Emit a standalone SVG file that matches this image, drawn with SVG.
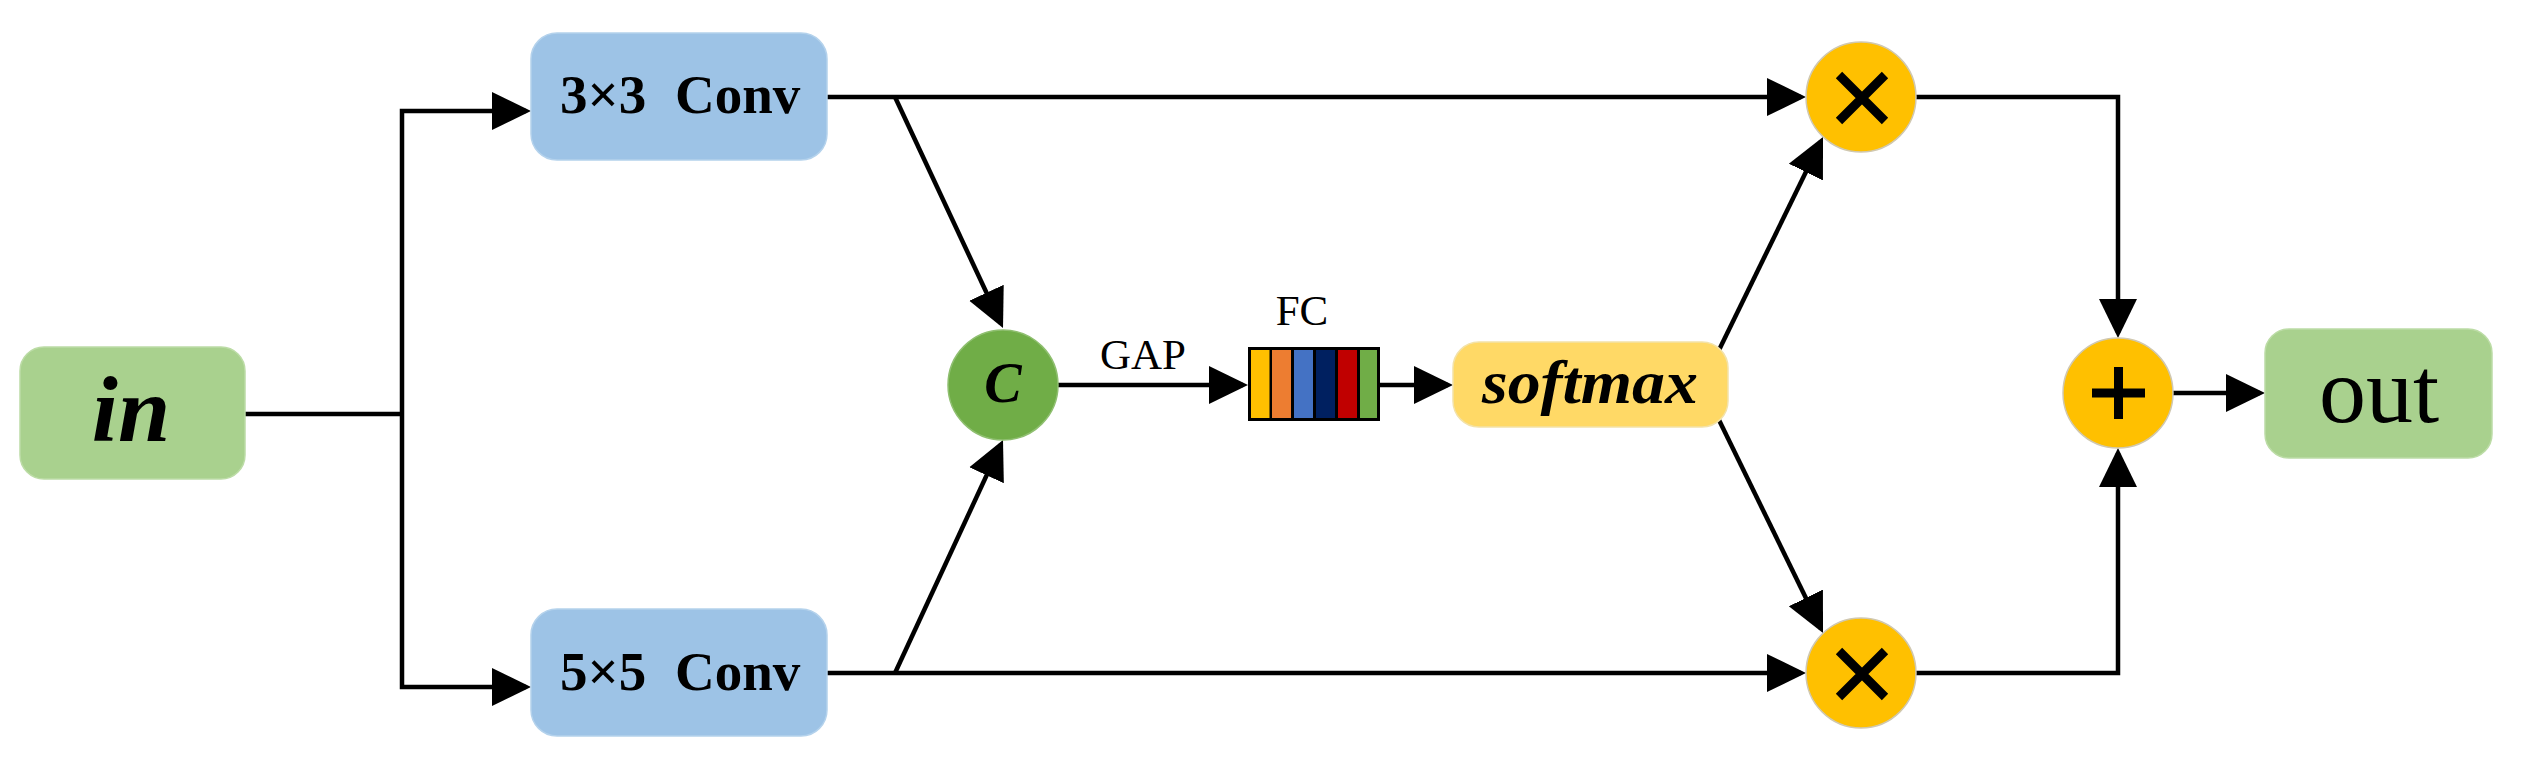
<svg xmlns="http://www.w3.org/2000/svg" width="2527" height="763" viewBox="0 0 2527 763">
<style>
.t{font-family:"Liberation Serif","Times New Roman",serif;fill:#000}
.b{font-weight:bold}
.bi{font-weight:bold;font-style:italic}
.conv{fill:#9DC3E6;stroke:#b4d2ec;stroke-width:1.5}
.grn{fill:#A9D18E;stroke:#bcdca6;stroke-width:1.5}
.op{fill:#FFC000;stroke:#d0c8b0;stroke-width:1.5}
.ln{fill:none;stroke:#000;stroke-width:4.5;stroke-linejoin:miter}
.ar{marker-end:url(#ah)}
.sg{stroke:#000;stroke-width:9;fill:none}
</style>
<defs>
<marker id="ah" markerUnits="userSpaceOnUse" markerWidth="40" markerHeight="40" viewBox="0 0 40 40" refX="34" refY="20" orient="auto">
<path d="M0,1 L39,20 L0,39 z" fill="#000"/>
</marker>
</defs>
<rect width="2527" height="763" fill="#fff"/>

<g id="connectors">
<path class="ln" d="M245,414 H402"/>
<path class="ln ar" d="M402,414 V111 H526"/>
<path class="ln ar" d="M402,414 V687 H526"/>
<path class="ln ar" d="M827,97 H1801"/>
<path class="ln ar" d="M895,97 L1000.9,323.5"/>
<path class="ln ar" d="M827,673 H1801"/>
<path class="ln ar" d="M895,673 L1000.9,444.5"/>
<path class="ln ar" d="M1058,385 H1243"/>
<path class="ln ar" d="M1380,385 H1448"/>
<path class="ln ar" d="M1719,350 L1820.8,141.5"/>
<path class="ln ar" d="M1719,420 L1820.8,628.5"/>
<path class="ln ar" d="M1916,97 H2118 V333"/>
<path class="ln ar" d="M1916,673 H2118 V453"/>
<path class="ln ar" d="M2173,393 H2260"/>
</g>

<g id="in">
<rect class="grn" x="20" y="347" width="225" height="132" rx="24"/>
<text class="t bi" x="131" y="441" font-size="94" text-anchor="middle">in</text>
</g>

<g id="conv3">
<rect class="conv" x="531" y="33" width="296" height="127" rx="26"/>
<text class="t b" y="113" font-size="55"><tspan x="560">3×3</tspan><tspan x="675">Conv</tspan></text>
</g>

<g id="conv5">
<rect class="conv" x="531" y="609" width="296" height="127" rx="26"/>
<text class="t b" y="690" font-size="55"><tspan x="560">5×5</tspan><tspan x="675">Conv</tspan></text>
</g>

<g id="concat">
<circle cx="1003" cy="385" r="55" fill="#70AD47" stroke="#8fbf70" stroke-width="1.5"/>
<text class="t bi" x="1003" y="402" font-size="56" text-anchor="middle">C</text>
</g>

<g id="gap-label">
<text class="t" x="1143" y="369" font-size="43" text-anchor="middle">GAP</text>
</g>

<g id="fc">
<text class="t" x="1302" y="325" font-size="43" text-anchor="middle">FC</text>
<rect x="1248" y="347" width="132" height="74" fill="#000"/>
<rect x="1251" y="350" width="18.5" height="68" fill="#FFC000"/>
<rect x="1272" y="350" width="19" height="68" fill="#ED7D31"/>
<rect x="1294" y="350" width="19" height="68" fill="#4472C4"/>
<rect x="1316" y="350" width="19" height="68" fill="#002060"/>
<rect x="1338" y="350" width="19" height="68" fill="#C00000"/>
<rect x="1360" y="350" width="17" height="68" fill="#70AD47"/>
</g>

<g id="softmax">
<rect x="1453" y="342" width="275" height="85" rx="26" fill="#FFD966" stroke="#f3e2a8" stroke-width="1.5"/>
<text class="t bi" x="1482" y="403" font-size="62" textLength="216" lengthAdjust="spacingAndGlyphs">softmax</text>
</g>

<g id="mul-top">
<circle class="op" cx="1861" cy="97" r="55"/>
<path class="sg" d="M1839,75 L1885,121 M1885,75 L1839,121"/>
</g>

<g id="mul-bottom">
<circle class="op" cx="1861" cy="673" r="55"/>
<path class="sg" d="M1839,651 L1885,697 M1885,651 L1839,697"/>
</g>

<g id="add">
<circle class="op" cx="2118" cy="393" r="55"/>
<path class="sg" d="M2092,393 H2145 M2118.5,367 V419"/>
</g>

<g id="out">
<rect class="grn" x="2265" y="329" width="227" height="129" rx="24"/>
<text class="t" x="2379" y="422" font-size="94" text-anchor="middle">out</text>
</g>
</svg>
